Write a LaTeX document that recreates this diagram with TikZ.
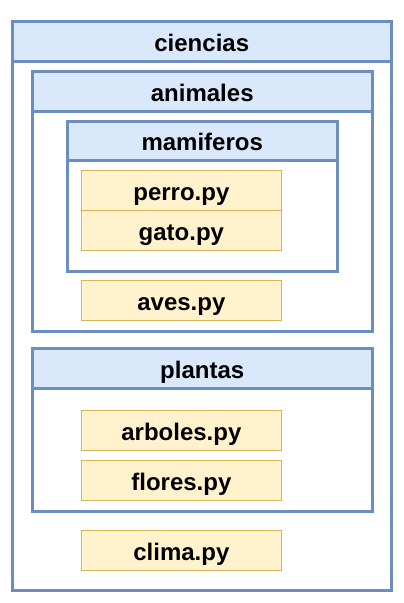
\documentclass[tikz,border=0pt]{standalone}
\usepackage{fontspec}
\setmainfont{Liberation Sans}
\definecolor{hdrfill}{HTML}{DAE8FC}
\definecolor{hdrline}{HTML}{6C8EBF}
\definecolor{filefill}{HTML}{FFF2CC}
\definecolor{fileline}{HTML}{D6B656}
\tikzset{
  folder/.style={draw=hdrline, line width=2.5pt, fill=white, anchor=north west, inner sep=0pt},
  header/.style={draw=hdrline, line width=2.5pt, fill=hdrfill, anchor=north west, inner sep=0pt,
    minimum height=40pt, text height=20pt, text depth=0pt, font=\fontsize{24}{28}\selectfont\bfseries},
  pyfile/.style={draw=fileline, line width=0.8pt, fill=filefill, anchor=north west, inner sep=0pt,
    minimum width=200pt, minimum height=40pt, text height=19.5pt, text depth=0pt,
    font=\fontsize{24}{28}\selectfont\bfseries}
}
\begin{document}
\begin{tikzpicture}[x=1pt, y=-1pt]
  \useasboundingbox (0,0) rectangle (404,603);

  % ciencias
  \node[folder, minimum width=379pt, minimum height=569pt] (ciencias) at (11,20) {};
  \node[header, minimum width=379pt] (cienciasHdr) at (11,20) {ciencias};

  % animales
  \node[folder, minimum width=340pt, minimum height=260pt] (animales) at (31,70) {};
  \node[header, minimum width=340pt] (animalesHdr) at (31,70) {animales};

  % mamiferos
  \node[folder, minimum width=270pt, minimum height=150pt] (mamiferos) at (66,120) {};
  \node[header, minimum width=270pt, minimum height=39pt] (mamiferosHdr) at (66,120) {mamiferos};
  \node[pyfile] (perro) at (81,170) {perro.py};
  \node[pyfile] (gato) at (81,210) {gato.py};

  \node[pyfile] (aves) at (81,280) {aves.py};

  % plantas
  \node[folder, minimum width=340pt, minimum height=163pt] (plantas) at (31,347) {};
  \node[header, minimum width=340pt] (plantasHdr) at (31,347) {plantas};
  \node[pyfile] (arboles) at (81,410) {arboles.py};
  \node[pyfile] (flores) at (81,460) {flores.py};

  \node[pyfile] (clima) at (81,530) {clima.py};

\end{tikzpicture}
\end{document}
